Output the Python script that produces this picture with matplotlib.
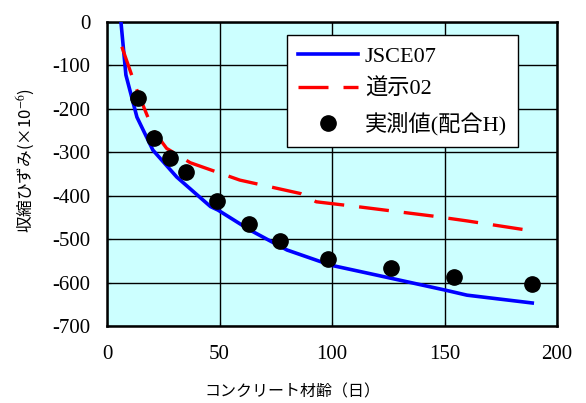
import numpy as np
import matplotlib
matplotlib.use("Agg")
import matplotlib.pyplot as plt

plt.rcParams['font.family'] = ['Liberation Serif', 'Noto Sans CJK JP', 'DejaVu Sans']
plt.rcParams['mathtext.fontset'] = 'stix'
plt.rcParams['axes.unicode_minus'] = False

# JSCE07 curve
jsce_x = [6.2, 8.4, 13.3, 20.4, 31, 46, 49.3, 63.5, 80, 99.5, 120, 150, 160, 189]
jsce_y = [0, -122, -219, -295, -357, -425, -433, -479, -525, -560, -583, -617, -629, -647]

# 道示02 curve
doji_x = [6.6, 13.3, 20.5, 26.5, 37, 59, 86, 93, 111, 145, 160, 189]
doji_y = [-57, -157, -249, -291, -324, -364, -395, -414, -425, -447, -458, -481]

# measured values (配合H)
meas_x = [13.8, 20.9, 28, 35, 49, 63, 77, 98, 126, 154, 189]
meas_y = [-175, -267, -313, -346, -412, -465, -505, -546, -567, -588, -604]

fig = plt.figure(figsize=(5.86, 4.03), dpi=100)
ax = fig.add_axes([107/586, 1-326/403, 450/586, 304/403])
ax.set_facecolor('#CCFFFF')

ax.plot(jsce_x, jsce_y, color='#0000FF', lw=2.6, label='JSCE07', zorder=3)
ax.plot(doji_x, doji_y, color='#FF0000', lw=2.4, ls=(0, (9, 4.5)), label='道示02', zorder=3)
ax.plot(meas_x, meas_y, 'o', color='black', ms=11, label='実測値(配合H)', zorder=4)

ax.set_xlim(0, 200)
ax.set_ylim(-700, 0)
ax.set_xticks([0, 50, 100, 150, 200])
ax.set_yticks(np.arange(-700, 1, 100))
ax.grid(True, color='black', lw=1)
ax.set_axisbelow(True)
for s in ax.spines.values():
    s.set_linewidth(1.8)
ax.tick_params(direction='in', length=3, labelsize=15, colors='black')
ax.tick_params(axis='y', pad=12)
ax.tick_params(axis='x', pad=14)

ax.set_xlabel('コンクリート材齢（日）', fontsize=11.5, family=['Noto Sans CJK JP'])
ax.xaxis.set_label_coords((292-107)/450, -(383-326)/304)
ax.set_ylabel('収縮ひずみ(×10$^{-6}$)', fontsize=12, family=['Noto Sans CJK JP', 'DejaVu Sans'])
ax.yaxis.set_label_coords(-(107-37)/450, (326-160)/304)

leg = ax.legend(loc='upper left', bbox_to_anchor=(287/586, 1-35/403), bbox_transform=fig.transFigure,
                borderaxespad=0, fontsize=16, fancybox=False, framealpha=1, edgecolor='black',
                handlelength=2.7, labelspacing=0.55, handletextpad=0.3, borderpad=0.5)
leg.get_frame().set_linewidth(1.0)

fig.savefig('out.png', dpi=100)
